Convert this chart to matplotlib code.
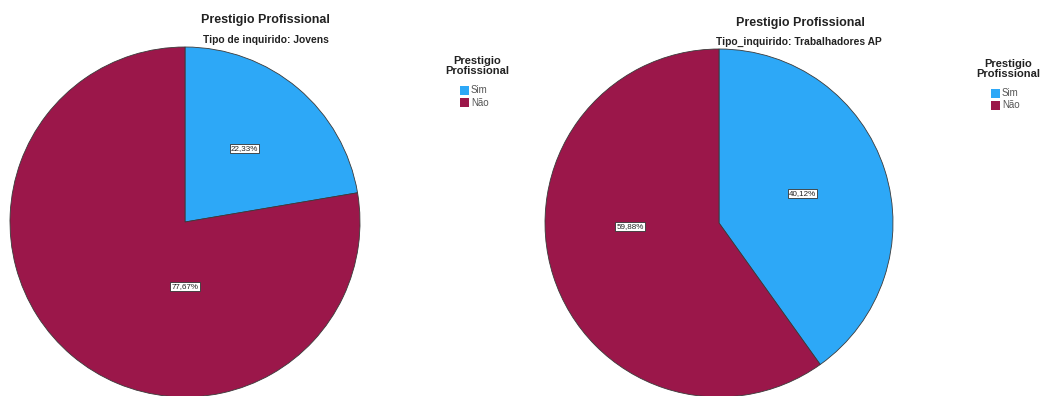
import matplotlib
matplotlib.use("Agg")
import matplotlib.pyplot as plt
from matplotlib.patches import Rectangle

plt.rcParams['font.family'] = ['Liberation Sans', 'DejaVu Sans']

# Data
categories = ["Sim", "Não"]
jovens = [22.33, 77.67]
trabalhadores = [40.12, 59.88]
title = "Prestigio Profissional"
subtitles = ["Tipo de inquirido: Jovens", "Tipo_inquirido: Trabalhadores AP"]
legend_title = "Prestigio\nProfissional"

colors = ["#2DA8F7", "#9B174A"]
W, H = 1042, 396

fig = plt.figure(figsize=(W / 100, H / 100), dpi=100)
ax = fig.add_axes([0, 0, 1, 1])

panels = [
    dict(values=jovens, center=(185, 222), radius=175,
         title_xy=(265, 20), sub_xy=(266, 40),
         label_offsets=[(0.34, -0.42), (0.0, 0.37)],
         legend_xy=(477, 66)),
    dict(values=trabalhadores, center=(719, 223), radius=174,
         title_xy=(800, 23), sub_xy=(799, 42),
         label_offsets=[(0.48, -0.17), (-0.51, 0.02)],
         legend_xy=(1008, 69)),
]

for p, sub in zip(panels, subtitles):
    cx, cy = p["center"]
    r = p["radius"]
    # y axis is inverted, so counterclock=True draws clockwise on screen
    ax.pie(p["values"], colors=colors, startangle=-90, counterclock=True,
           center=(cx, cy), radius=r, frame=True,
           wedgeprops=dict(edgecolor="#3a3a3a", linewidth=0.6))
    for (fx, fy), v in zip(p["label_offsets"], p["values"]):
        ax.text(cx + fx * r, cy + fy * r, f"{v:.2f}%".replace(".", ","),
                ha="center", va="center", fontsize=5.8, color="#222222",
                bbox=dict(boxstyle="square,pad=0.15", fc="white",
                          ec="#333333", lw=0.6))
    ax.text(*p["title_xy"], title, ha="center", va="center",
            fontsize=9, fontweight="bold", color="#222222")
    ax.text(*p["sub_xy"], sub, ha="center", va="center",
            fontsize=7.4, fontweight="bold", color="#222222")
    lx, ly = p["legend_xy"]
    ax.text(lx, ly, legend_title, ha="center", va="center",
            fontsize=8, fontweight="bold", color="#222222", linespacing=1.0)
    for i, (cat, col) in enumerate(zip(categories, colors)):
        yy = ly + 24 + i * 12.5
        ax.add_patch(Rectangle((lx - 17, yy - 4.5), 9, 9, fc=col, ec="none"))
        ax.text(lx - 6, yy, cat, ha="left", va="center",
                fontsize=7, color="#555555")

ax.set_xlim(0, W)
ax.set_ylim(H, 0)
ax.set_aspect("auto")
ax.axis("off")

fig.savefig("out.png", dpi=100, facecolor="white")
